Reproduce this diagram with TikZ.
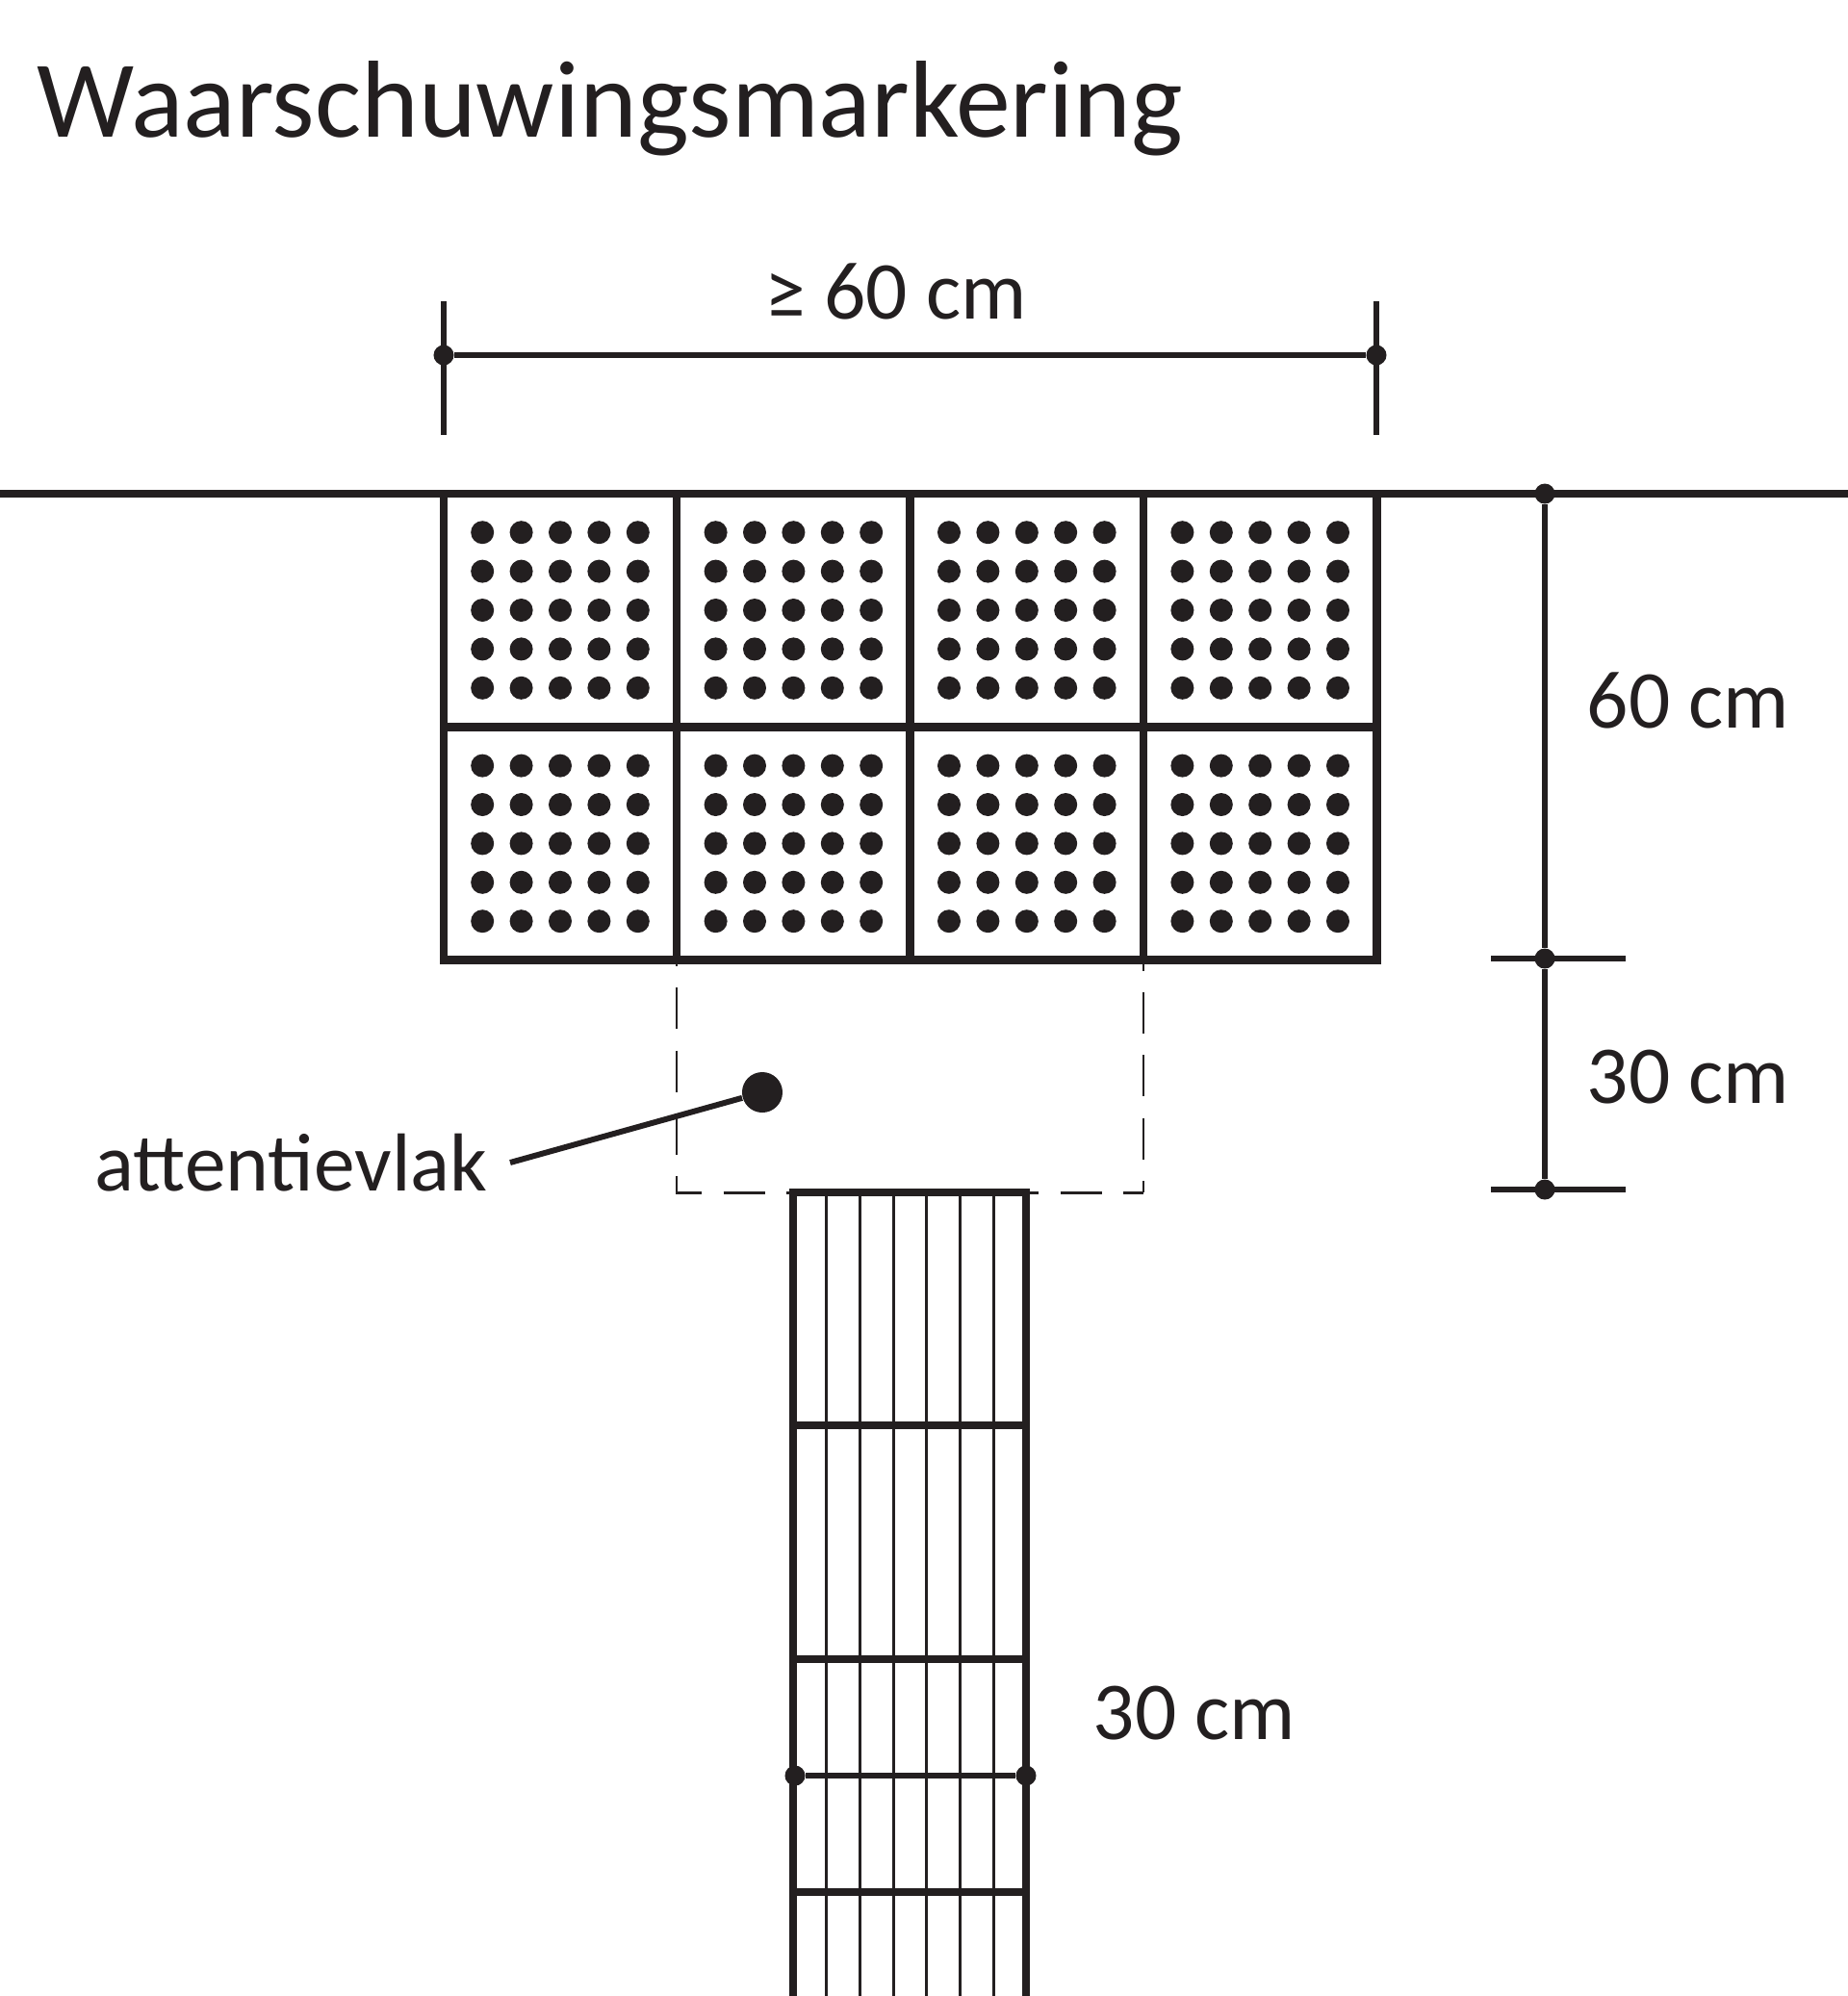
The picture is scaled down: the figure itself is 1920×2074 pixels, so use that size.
\documentclass[tikz,border=0pt]{standalone}
\usepackage{fontspec}
\setmainfont{Carlito}
\usepackage{tikz}
\definecolor{ink}{HTML}{231F20}

\begin{document}
\begin{tikzpicture}[x=0.01cm, y=-0.01cm, every node/.style={text=ink}]
\tikzstyle{tile} = [rectangle, draw=ink, line width=2.4pt, minimum size=2.424cm, inner sep=0pt]
\tikzstyle{dimdot} = [circle, fill=ink, inner sep=0pt, minimum size=0.21cm]
\tikzstyle{dimline} = [draw=ink, line width=1.7pt]
\tikzstyle{heavy} = [draw=ink, line width=2.5pt]
\tikzstyle{rib} = [draw=ink, line width=0.85pt]
\tikzstyle{guide} = [draw=ink, line width=0.85pt]
\tikzstyle{label} = [font=\fontsize{24.3}{28}\selectfont, anchor=base west, inner sep=0pt]
\useasboundingbox (-1,0) rectangle (1919,2074);

% Title
\node[anchor=base west, inner sep=0pt, font=\fontsize{32.35}{38}\selectfont] (title) at (37,142) {Waarschuwingsmarkering};

% Warning tiles
\foreach \c in {0,...,3} {
  \foreach \r in {0,1} {
    \node[tile] (tile\r\c) at ({581+242.4*\c},{634+242.4*\r}) {};
    \foreach \i in {-2,...,2} {
      \foreach \j in {-2,...,2} {
        \fill[ink] ({581+242.4*\c+40.4*\i},{634+242.4*\r+40.4*\j}) circle (0.12cm);
      }
    }
  }
}

% Wall line
\coordinate (wallL) at (-1,513);
\coordinate (wallR) at (1919,513);
\draw[heavy] (wallL) -- (wallR);

% Width dimension
\node[dimdot] (wl) at (460,369) {};
\node[dimdot] (wr) at (1429,369) {};
\coordinate (wlT) at (460,313);
\coordinate (wlB) at (460,452);
\coordinate (wrT) at (1429,313);
\coordinate (wrB) at (1429,452);
\draw[dimline] (wl) -- (wr);
\draw[dimline] (wlT) -- (wlB);
\draw[dimline] (wrT) -- (wrB);
\node[label] (widthlab) at (793,331) {≥ 60 cm};

% Depth dimension
\node[dimdot] (d0) at (1604,513) {};
\node[dimdot] (d1) at (1604,996) {};
\node[dimdot] (d2) at (1604,1236) {};
\coordinate (d1L) at (1548,996);
\coordinate (d1R) at (1688,996);
\coordinate (d2L) at (1548,1236);
\coordinate (d2R) at (1688,1236);
\draw[dimline] (d0) -- (d1);
\draw[dimline] (d1) -- (d2);
\draw[dimline] (d1L) -- (d1R);
\draw[dimline] (d2L) -- (d2R);
\node[label] (depthA) at (1647,756) {60 cm};
\node[label] (depthB) at (1647,1146) {30 cm};

% Attention area
\coordinate (aTL) at (702,998);
\coordinate (aBL) at (702,1239);
\coordinate (aTR) at (1187,998);
\coordinate (aBR) at (1187,1239);
\coordinate (aW) at (823,1239);
\coordinate (aE) at (1066,1239);
\draw[guide, dash pattern=on 0.43cm off 0.223cm, dash phase=0.37cm] (aTL) -- (aBL) -- (aW);
\draw[guide, dash pattern=on 0.43cm off 0.223cm, dash phase=0.323cm] (aTR) -- (aBR);
\draw[guide, dash pattern=on 0.43cm off 0.223cm, dash phase=0.308cm] (aE) -- (aBR);
\node[circle, fill=ink, inner sep=0pt, minimum size=0.42cm] (attdot) at (791,1135) {};
\coordinate (attend) at (529,1208);
\draw[dimline] (attdot) -- (attend);
\node[label] (attlab) at (97,1237) {attentievlak};

% Guide strip
\foreach \n in {1,...,6} {
  \coordinate (ribT\n) at ({823+34.7*\n},1239);
  \coordinate (ribB\n) at ({823+34.7*\n},2074);
  \draw[rib] (ribT\n) -- (ribB\n);
}
\coordinate (sTL) at (823,1239);
\coordinate (sTR) at (1065,1239);
\coordinate (sBL) at (823,2074);
\coordinate (sBR) at (1065,2074);
\draw[heavy] (sBL) -- (sTL) -- (sTR) -- (sBR);
\foreach \y in {1481,1724,1966} {
  \coordinate (jL\y) at (823,\y);
  \coordinate (jR\y) at (1065,\y);
  \draw[heavy] (jL\y) -- (jR\y);
}

% Strip width
\node[dimdot] (sl) at (825,1845) {};
\node[dimdot] (sr) at (1065,1845) {};
\draw[dimline] (sl) -- (sr);
\node[label] (striplab) at (1134,1807) {30 cm};

\end{tikzpicture}
\end{document}
